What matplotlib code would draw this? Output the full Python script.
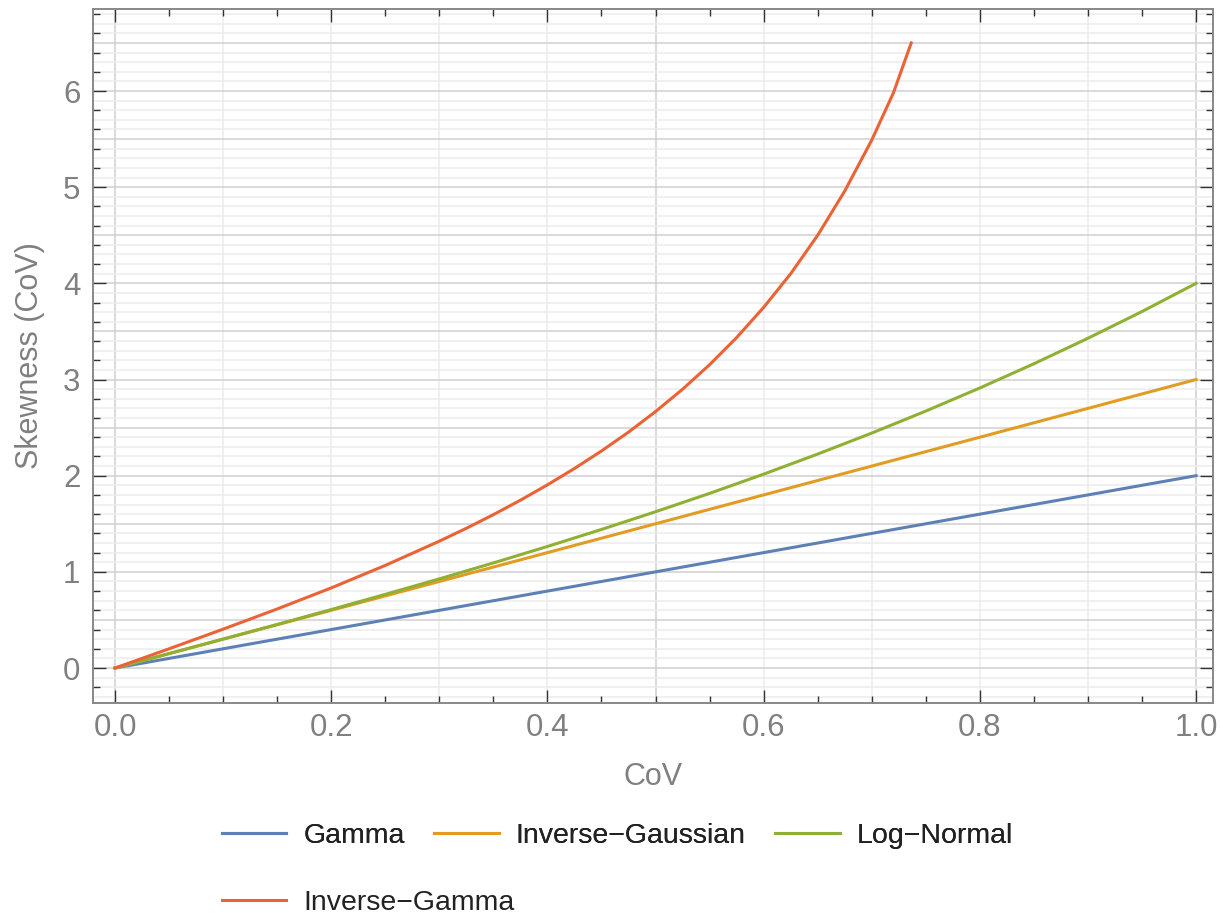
import matplotlib.pyplot as plt
from matplotlib.ticker import MultipleLocator

plt.rcParams['font.family'] = ['Liberation Sans', 'DejaVu Sans']

# values
cov = [0.0, 0.05, 0.1, 0.15, 0.2, 0.25, 0.3, 0.35, 0.4, 0.45, 0.5,
       0.55, 0.6, 0.65, 0.7, 0.75, 0.8, 0.85, 0.9, 0.95, 1.0]
gamma = [0.0, 0.1, 0.2, 0.3, 0.4, 0.5, 0.6, 0.7, 0.8, 0.9, 1.0,
         1.1, 1.2, 1.3, 1.4, 1.5, 1.6, 1.7, 1.8, 1.9, 2.0]
inv_gauss = [0.0, 0.15, 0.3, 0.45, 0.6, 0.75, 0.9, 1.05, 1.2, 1.35, 1.5,
             1.65, 1.8, 1.95, 2.1, 2.25, 2.4, 2.55, 2.7, 2.85, 3.0]
log_normal = [0.0, 0.15, 0.301, 0.453, 0.608, 0.766, 0.927, 1.093, 1.264, 1.441, 1.625,
              1.816, 2.016, 2.225, 2.443, 2.672, 2.912, 3.164, 3.429, 3.707, 4.0]

cov_ig = [0.0, 0.05, 0.1, 0.15, 0.2, 0.25, 0.3, 0.325, 0.35, 0.375, 0.4, 0.425, 0.45,
          0.475, 0.5, 0.525, 0.55, 0.575, 0.6, 0.625, 0.65, 0.675, 0.7, 0.72, 0.7365]
inv_gamma = [0.0, 0.2, 0.404, 0.614, 0.833, 1.067, 1.319, 1.453, 1.595, 1.745, 1.905, 2.075, 2.257,
             2.453, 2.667, 2.899, 3.154, 3.436, 3.75, 4.10, 4.50, 4.96, 5.49, 5.98, 6.5]

colors = ['#5E81B5', '#E19C24', '#8FB032', '#EB6235']
gray = '#808080'

fig = plt.figure(figsize=(12.2, 9.16), dpi=100)
ax = fig.add_axes([0.0762, 0.2325, 0.9943 - 0.0762, 0.9902 - 0.2325])

l1, = ax.plot(cov, gamma, color=colors[0], lw=2.2, label='Gamma', zorder=3)
l2, = ax.plot(cov, inv_gauss, color=colors[1], lw=2.2, label='Inverse\u2212Gaussian', zorder=3)
l3, = ax.plot(cov, log_normal, color=colors[2], lw=2.2, label='Log\u2212Normal', zorder=3)
l4, = ax.plot(cov_ig, inv_gamma, color=colors[3], lw=2.2, label='Inverse\u2212Gamma', zorder=3)

ax.set_xlim(-0.0204, 1.0157)
ax.set_ylim(-0.364, 6.853)

# grid lines: light every 0.1, darker every 0.5
for v in [i / 10 for i in range(0, 11)]:
    ax.axvline(v, color='#d0d0d0' if v * 10 % 5 == 0 else '#ececec', lw=1.1, zorder=1)
for v in [i / 10 for i in range(-3, 69)]:
    ax.axhline(v, color='#d0d0d0' if v * 10 % 5 == 0 else '#ececec', lw=1.1, zorder=1)

ax.xaxis.set_major_locator(MultipleLocator(0.2))
ax.xaxis.set_minor_locator(MultipleLocator(0.05))
ax.yaxis.set_major_locator(MultipleLocator(1))
ax.yaxis.set_minor_locator(MultipleLocator(0.2))
ax.xaxis.set_major_formatter(plt.FuncFormatter(lambda v, p: f'{v:.1f}'))
ax.yaxis.set_major_formatter(plt.FuncFormatter(lambda v, p: f'{v:.0f}'))

ax.tick_params(which='both', direction='in', top=True, right=True,
               color='#333333', width=1, labelsize=22.5, labelcolor=gray)
ax.tick_params(which='major', length=9.5)
ax.tick_params(which='minor', length=5)
ax.tick_params(axis='x', pad=7)
ax.tick_params(axis='y', pad=9)

for s in ax.spines.values():
    s.set_color('#888888')
    s.set_linewidth(1.4)

ax.set_xlabel('CoV', fontsize=22, color=gray, labelpad=14)
ax.set_ylabel('Skewness (CoV)', fontsize=22, color=gray, labelpad=13)

# legend in two rows
leg1 = fig.legend(handles=[l1, l2, l3], loc='center left', bbox_to_anchor=(0.182, 0.0873),
                  ncol=3, frameon=False, fontsize=20.5, handlelength=2.25, handletextpad=0.6,
                  columnspacing=1.05, borderpad=0, borderaxespad=0)
leg2 = fig.legend(handles=[l4], loc='center left', bbox_to_anchor=(0.182, 0.0142),
                  frameon=False, fontsize=20.5, handlelength=2.25, handletextpad=0.6,
                  borderpad=0, borderaxespad=0)
for leg in (leg1, leg2):
    for t in leg.get_texts():
        t.set_color('#222222')
fig.add_artist(leg1)

fig.savefig('out.png', dpi=100)
